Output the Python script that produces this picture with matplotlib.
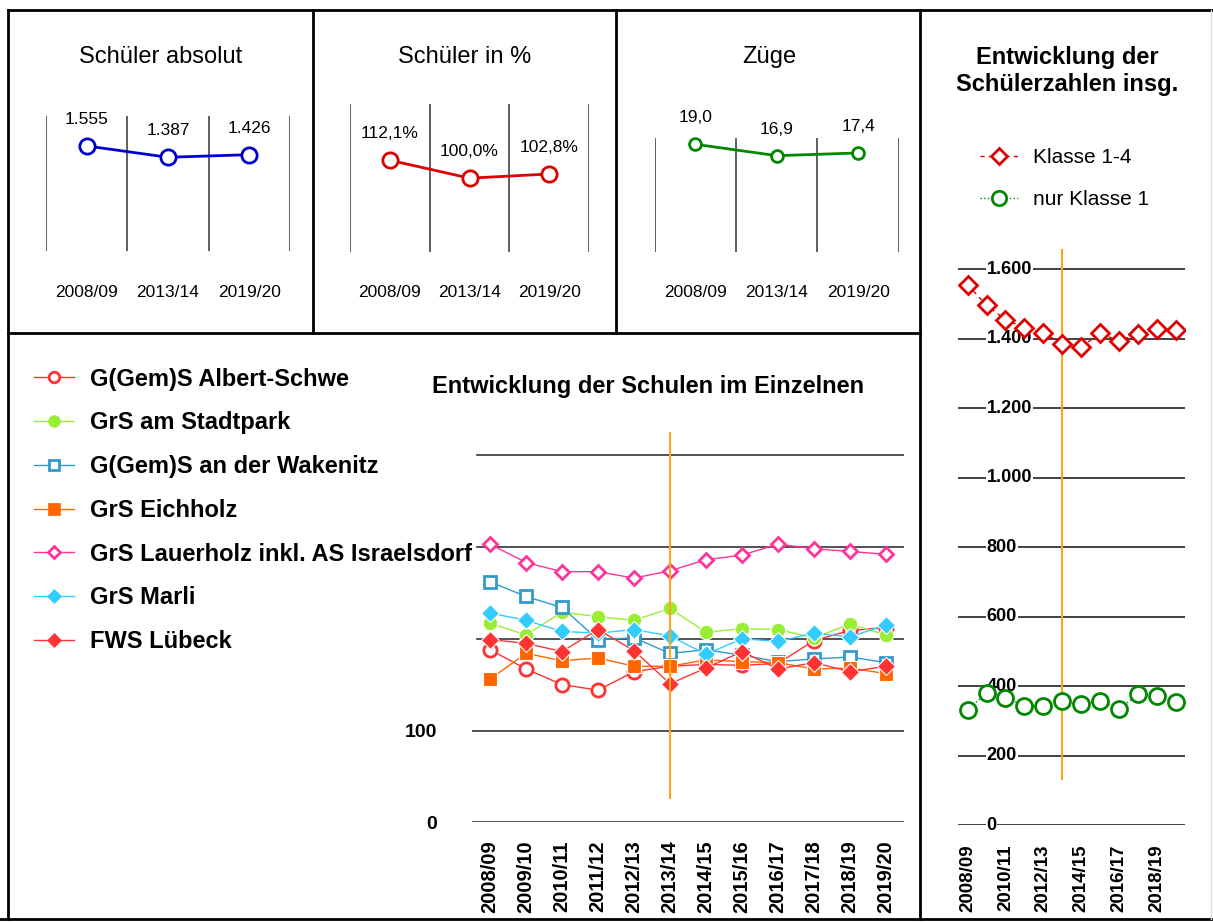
import matplotlib
matplotlib.use("Agg")
import matplotlib.pyplot as plt
from matplotlib.lines import Line2D

plt.rcParams['font.family'] = ['Liberation Sans', 'DejaVu Sans']
NARROW = ['Liberation Sans Narrow', 'Liberation Sans', 'DejaVu Sans']

# ---------------- data ----------------
years = ['2008/09', '2009/10', '2010/11', '2011/12', '2012/13', '2013/14',
         '2014/15', '2015/16', '2016/17', '2017/18', '2018/19', '2019/20']

summary_years = ['2008/09', '2013/14', '2019/20']
schueler_absolut = [1555, 1387, 1426]
schueler_absolut_labels = ['1.555', '1.387', '1.426']
schueler_prozent = [112.1, 100.0, 102.8]
schueler_prozent_labels = ['112,1%', '100,0%', '102,8%']
zuege = [19.0, 16.9, 17.4]
zuege_labels = ['19,0', '16,9', '17,4']

school_names = ['G(Gem)S Albert-Schwe', 'GrS am Stadtpark', 'G(Gem)S an der Wakenitz',
                'GrS Eichholz', 'GrS Lauerholz inkl. AS Israelsdorf', 'GrS Marli', 'FWS Lübeck']
albert = [188, 167, 150, 144, 164, 170, 172, 171, 173, 198, 209, 212]
stadtpark = [217, 204, 229, 224, 220, 233, 207, 211, 210, 201, 216, 204]
wakenitz = [262, 246, 234, 199, 201, 184, 188, 182, 175, 178, 180, 174]
eichholz = [156, 184, 176, 179, 170, 170, 177, 175, 174, 167, 168, 162]
lauerholz = [303, 283, 273, 273, 266, 274, 286, 291, 303, 298, 295, 292]
marli = [228, 220, 208, 206, 210, 203, 183, 200, 197, 206, 202, 215]
fws = [199, 195, 186, 210, 187, 151, 168, 186, 167, 174, 164, 170]

klasse_1_4 = [1555, 1497, 1455, 1432, 1418, 1385, 1375, 1417, 1393, 1415, 1427, 1426]
nur_klasse_1 = [332, 380, 366, 343, 343, 356, 347, 357, 333, 376, 372, 354]

schools_yticks = [0, 100, 200, 300, 400]
schools_yticklabels = ['0', '100', '', '', '']
total_yticks = [0, 200, 400, 600, 800, 1000, 1200, 1400, 1600]
total_yticklabels = ['0', '200', '400', '600', '800', '1.000', '1.200', '1.400', '1.600']

# ---------------- figure ----------------
W, H = 1213, 922
fig = plt.figure(figsize=(W / 100, H / 100), dpi=100)


def rect(l, t, r, b):
    return [l / W, 1 - b / H, (r - l) / W, (b - t) / H]


def fline(xs, ys, **kw):
    fig.add_artist(Line2D([x / W for x in xs], [1 - y / H for y in ys],
                          transform=fig.transFigure, **kw))


# panel borders
bk = dict(color='black', lw=2.0, solid_capstyle='projecting')
fline([8, 1213], [10, 10], **bk)
fline([8, 8], [10, 919], **bk)
fline([0, 1213], [919, 919], **bk)
fline([313, 313], [10, 333], **bk)
fline([616, 616], [10, 333], **bk)
fline([920, 920], [10, 919], **bk)
fline([8, 920], [333, 333], **bk)
fline([1211, 1211], [10, 919], color='#dddddd', lw=1)


# ---------------- small summary panels ----------------
def summary_panel(box, vals, labels, ylim, color, ms, title, title_x):
    ax = fig.add_axes(rect(*box))
    x = list(range(len(vals)))
    ax.plot(x, vals, color=color, lw=2, marker='o', ms=ms, mfc='white',
            mec=color, mew=2, zorder=3, clip_on=False)
    for xi, v, lab in zip(x, vals, labels):
        ax.annotate(lab, (xi, v), xytext=(0, 19), textcoords='offset points',
                    ha='center', va='center', fontsize=12.5, family=NARROW)
    ax.set_xlim(-0.5, len(vals) - 0.5)
    ax.set_ylim(*ylim)
    for b in [-0.5, 0.5, 1.5, 2.5]:
        ax.axvline(b, color='#444444', lw=1.2)
    for s in ax.spines.values():
        s.set_visible(False)
    ax.set_yticks([])
    ax.set_xticks(x)
    ax.set_xticklabels(summary_years, family=NARROW, fontsize=12.5)
    for lab in ax.get_xticklabels():
        lab.set_va('center')
    ax.patch.set_alpha(0)
    fig.text(title_x / W, 1 - 57 / H, title, ha='center', va='center', fontsize=17)
    return ax


ax1 = summary_panel((46.3, 116, 289.8, 250.7), schueler_absolut, schueler_absolut_labels,
                    (0, 2000), '#0000cc', 11, 'Schüler absolut', 161)
ax2 = summary_panel((350, 104, 589, 252.3), schueler_prozent, schueler_prozent_labels,
                    (50, 150), '#dd0000', 11, 'Schüler in %', 464.5)
ax3 = summary_panel((654.7, 138.3, 898.8, 252.3), zuege, zuege_labels,
                    (-0.9, 20.1), '#008800', 8.5, 'Züge', 769)
for ax, bottom in [(ax1, 250.7), (ax2, 252.3), (ax3, 252.3)]:
    ax.tick_params(axis='x', length=0, pad=(293 - bottom) / 1.389)

# ---------------- school development panel ----------------
axb = fig.add_axes(rect(472, 822.3 - 450 * 0.918, 904, 822.3))
xs = list(range(len(years)))
styles = [
    (albert, '#ff3333', 'o', 'white', 9.5),
    (stadtpark, '#99ee33', 'o', '#99ee33', 10.5),
    (wakenitz, '#3399cc', 's', 'white', 9),
    (eichholz, '#ff6600', 's', '#ff6600', 10),
    (lauerholz, '#ff3399', 'D', 'white', 7.5),
    (marli, '#33ccff', 'D', '#33ccff', 9),
    (fws, '#ff3333', 'D', '#ff3333', 9),
]
handles = []
for (vals, col, mk, fc, ms), name in zip(styles, school_names):
    filled = fc != 'white'
    axb.plot(xs, vals, color=col, lw=1, marker=mk, ms=ms, mfc=fc,
             mec='white' if filled else col, mew=0.8 if filled else 2,
             label=name, zorder=3)
    handles.append(Line2D([], [], color=col, lw=1, marker=mk, ms=ms * 0.8, mfc=fc,
                          mec=col, mew=2 if not filled else 0.5))
axb.set_xlim(-0.5, len(years) - 0.5)
axb.set_ylim(0, 450)
axb.set_yticks(schools_yticks)
axb.set_yticklabels(schools_yticklabels, fontweight='bold', fontsize=14)
axb.grid(axis='y', color='#333333', lw=1.2)
axb.set_axisbelow(True)
axb.set_xticks(xs)
axb.set_xticklabels(years, rotation=90, fontweight='bold', fontsize=14.5, va='top')
axb.tick_params(axis='y', length=0, pad=25)
axb.tick_params(axis='x', length=0, pad=13)
for s in axb.spines.values():
    s.set_visible(False)
axb.patch.set_alpha(0)
axb.plot([5, 5], [27, 424], color='#ffa31a', lw=1.5, zorder=4, clip_on=False)
fig.text(648 / W, 1 - 386 / H, 'Entwicklung der Schulen im Einzelnen', ha='center',
         va='center', fontsize=17, fontweight='bold', zorder=10)

leg = fig.legend(handles, school_names, loc='upper left',
                 bbox_to_anchor=(30 / W, 1 - 364 / H), frameon=True, fancybox=False,
                 edgecolor='white', facecolor='white', framealpha=1,
                 prop=dict(weight='bold', size=17), handlelength=1.7, handletextpad=0.68,
                 labelspacing=0.88, borderpad=0.15, borderaxespad=0)
leg.set_zorder(5)

# ---------------- total development panel ----------------
axr = fig.add_axes(rect(958.2, 825 - 1700 * 0.3473, 1185, 825))
axr.plot(xs, klasse_1_4, color='#dd0000', lw=1, ls=(0, (3, 3)), marker='D', ms=9.5,
         mfc='white', mec='#dd0000', mew=2, zorder=4, label='Klasse 1-4')
axr.plot(xs, nur_klasse_1, color='#008800', lw=1, ls=':', marker='o', ms=11.5,
         mfc='white', mec='#008800', mew=2, zorder=4, label='nur Klasse 1')
axr.set_xlim(-0.5, len(years) - 0.5)
axr.set_ylim(0, 1700)
for v in total_yticks:
    axr.axhline(v, color='#222222', lw=1.2, zorder=1)
for v, lab in zip(total_yticks, total_yticklabels):
    axr.text(1.0, v, lab, ha='left', va='center', fontsize=13, fontweight='bold',
             zorder=2, bbox=dict(facecolor='white', edgecolor='none', pad=0.5))
axr.set_yticks([])
axr.set_xticks(xs[::2])
axr.set_xticklabels(years[::2], rotation=90, fontweight='bold', fontsize=13.5, va='top')
axr.tick_params(axis='x', length=0, pad=14)
for s in axr.spines.values():
    s.set_visible(False)
axr.patch.set_alpha(0)
axr.plot([5, 5], [132, 1655], color='#ffa31a', lw=1.5, zorder=3, clip_on=False)
fig.text(1067 / W, 1 - 71 / H, 'Entwicklung der\nSchülerzahlen insg.', ha='center',
         va='center', fontsize=17, fontweight='bold', linespacing=1.2)
fig.legend(handles=axr.get_lines()[:2], labels=['Klasse 1-4', 'nur Klasse 1'],
           loc='upper left', bbox_to_anchor=(980 / W, 1 - 148 / H), frameon=False,
           prop=dict(size=15), handlelength=1.8, handletextpad=0.75, labelspacing=1.12,
           borderpad=0, borderaxespad=0, markerscale=0.9)

fig.savefig('out.png', dpi=100)
